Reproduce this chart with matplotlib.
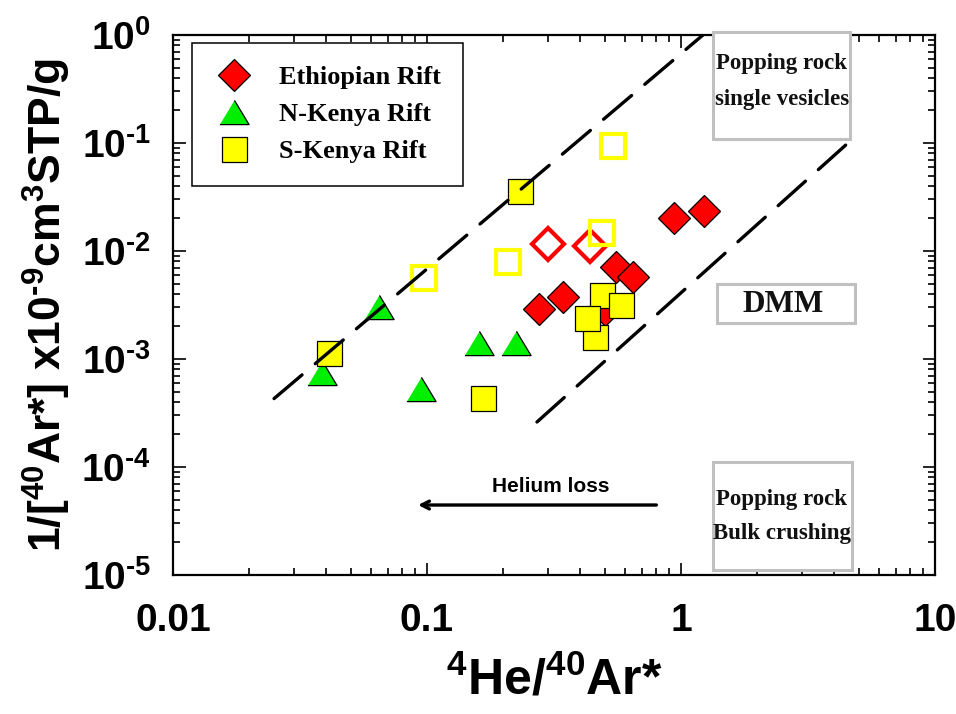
import numpy as np
import matplotlib
matplotlib.use("Agg")
import matplotlib.pyplot as plt
from matplotlib.lines import Line2D
from matplotlib.patches import Rectangle
from matplotlib.font_manager import FontProperties
from matplotlib.ticker import FixedLocator, FuncFormatter, LogLocator, NullFormatter

plt.rcParams['font.family'] = ['Liberation Sans', 'DejaVu Sans']
plt.rcParams['font.weight'] = 'bold'
plt.rcParams['mathtext.fontset'] = 'custom'
plt.rcParams['mathtext.rm'] = 'Liberation Sans:bold'
plt.rcParams['mathtext.bf'] = 'Liberation Sans:bold'
plt.rcParams['mathtext.it'] = 'Liberation Sans:bold'

# ---- data: 4He/40Ar* vs 1/[40Ar*] ----
eth_x = [0.276, 0.343, 0.502, 0.555, 0.647, 0.937, 1.23]
eth_y = [0.0029, 0.00375, 0.00284, 0.00711, 0.00574, 0.0202, 0.0235]
eth_open_x = [0.299, 0.438]
eth_open_y = [0.0116, 0.0111]

nk_x = [0.0387, 0.0647, 0.0946, 0.160, 0.224]
nk_y = [0.00074, 0.00303, 0.000527, 0.00141, 0.00141]

sk_x = [0.0411, 0.166, 0.232, 0.489, 0.581, 0.458, 0.427]
sk_y = [0.00114, 0.000435, 0.0359, 0.00391, 0.00316, 0.0016, 0.0024]
sk_open_x = [0.0973, 0.208, 0.489, 0.540]
sk_open_y = [0.00562, 0.0079, 0.0147, 0.0938]

# bounding trend lines
upper_x = [0.025, 1.22]
upper_y = [4.3e-4, 1.0]
lower_x = [0.271, 4.63]
lower_y = [2.61e-4, 0.104]

xticks = [0.01, 0.1, 1, 10]
xtick_labels = ['0.01', '0.1', '1', '10']
yticks = [1e-5, 1e-4, 1e-3, 1e-2, 1e-1, 1e0]

group_labels = ['Ethiopian Rift', 'N-Kenya Rift', 'S-Kenya Rift']

# ---- figure ----
fig = plt.figure(figsize=(9.56, 7.14), dpi=100)
ax = fig.add_axes([173 / 956, 1 - 575 / 714, 762 / 956, 540 / 714])
ax.set_xscale('log')
ax.set_yscale('log')
ax.set_xlim(0.01, 10)
ax.set_ylim(1e-5, 1)

tri = [(-1, -0.83), (1, -0.83), (0, 0.83)]

ax.plot(nk_x, nk_y, linestyle='none', marker=tri, ms=21, mfc='#00ee00',
        mec='black', mew=0.9, zorder=3)
ax.plot(eth_x, eth_y, linestyle='none', marker='D', ms=16.5, mfc='#ff0000',
        mec='black', mew=0.9, zorder=4)
ax.plot(eth_open_x, eth_open_y, linestyle='none', marker='D', ms=16,
        mfc='none', mec='#ff0000', mew=3, zorder=4)
ax.plot(sk_x, sk_y, linestyle='none', marker='s', ms=18, mfc='#ffff00',
        mec='black', mew=0.9, zorder=5)
ax.plot(sk_open_x, sk_open_y, linestyle='none', marker='s', ms=17,
        mfc='none', mec='#ffff00', mew=3, zorder=5)

for lx, ly in ((upper_x, upper_y), (lower_x, lower_y)):
    ln, = ax.plot(lx, ly, color='black', lw=2.4, zorder=6,
                  solid_capstyle='round', dash_capstyle='round')
    ln.set_dashes([11.0, 5.2])

# ---- axes styling ----
for s in ax.spines.values():
    s.set_linewidth(1.6)


def ylab(v, p):
    e = int(round(np.log10(v)))
    exp = r'\text{-}%d' % abs(e) if e < 0 else '%d' % e
    return r'10$^{%s}$' % exp


ax.xaxis.set_major_locator(FixedLocator(xticks))
ax.xaxis.set_major_formatter(FuncFormatter(
    lambda v, p: xtick_labels[xticks.index(v)] if v in xticks else ''))
ax.xaxis.set_minor_locator(LogLocator(base=10, subs=np.arange(2, 10)))
ax.xaxis.set_minor_formatter(NullFormatter())
ax.yaxis.set_major_locator(FixedLocator(yticks))
ax.yaxis.set_major_formatter(FuncFormatter(ylab))
ax.yaxis.set_minor_locator(LogLocator(base=10, subs=np.arange(2, 10)))
ax.yaxis.set_minor_formatter(NullFormatter())
ax.tick_params(which='both', direction='in', top=True, right=True, width=1.2)
ax.tick_params(which='major', length=9)
ax.tick_params(which='minor', length=5)
ax.tick_params(axis='x', which='major', labelsize=28, pad=20)
ax.tick_params(axis='y', which='major', labelsize=28, pad=16)

ax.set_xlabel(r'$^{4}$He/$^{40}$Ar*', fontsize=36, labelpad=12,
              fontweight='bold')
ax.set_ylabel(r'1/[$^{40}$Ar*] x10$^{\text{-}9}$cm$^{3}$STP/g', fontsize=32,
              labelpad=6, fontweight='bold')

# ---- legend ----
handles = [
    Line2D([], [], linestyle='none', marker='D', ms=16.5, mfc='#ff0000',
           mec='black', mew=0.9),
    Line2D([], [], linestyle='none', marker=tri, ms=21, mfc='#00ee00',
           mec='black', mew=0.9),
    Line2D([], [], linestyle='none', marker='s', ms=18, mfc='#ffff00',
           mec='black', mew=0.9),
]
leg = ax.legend(handles, group_labels, loc='upper left',
                bbox_to_anchor=(0.025, 0.985), borderaxespad=0,
                frameon=True, fancybox=False, framealpha=1,
                edgecolor='black',
                prop=FontProperties(family='Liberation Serif', weight='bold',
                                    size=19),
                borderpad=0.85, labelspacing=0.52, handlelength=1.5,
                handletextpad=0.95)
leg.get_frame().set_linewidth(1.1)
leg.set_zorder(10)

# ---- reference field boxes ----
serif = dict(family='Liberation Serif', weight='bold', color='#111111')
boxes = [
    (0.709, 0.807, 0.888 - 0.709, 1.006 - 0.807),
    (0.714, 0.467, 0.895 - 0.714, 0.539 - 0.467),
    (0.709, 0.009, 0.891 - 0.709, 0.209 - 0.009),
]
for bx, by, bw, bh in boxes:
    ax.add_patch(Rectangle((bx, by), bw, bh, transform=ax.transAxes,
                           facecolor='white', edgecolor='#c0c0c0', lw=2.2,
                           zorder=8, clip_on=False))

cx = (782 - 173) / 762
ax.text(cx, (575 - 64) / 540, 'Popping rock', transform=ax.transAxes,
        ha='center', va='center', fontsize=16.5, zorder=9, **serif)
ax.text(cx, (575 - 99) / 540, 'single vesicles', transform=ax.transAxes,
        ha='center', va='center', fontsize=16.5, zorder=9, **serif)
ax.text((783 - 173) / 762, (575 - 305) / 540, 'DMM', transform=ax.transAxes,
        ha='center', va='center', fontsize=22.5, zorder=9, **serif)
ax.text(cx, (575 - 500) / 540, 'Popping rock', transform=ax.transAxes,
        ha='center', va='center', fontsize=16.5, zorder=9, **serif)
ax.text(cx, (575 - 533) / 540, 'Bulk crushing', transform=ax.transAxes,
        ha='center', va='center', fontsize=16.5, zorder=9, **serif)

# ---- helium loss arrow ----
ax.annotate('', xy=(0.318, 0.1296), xytext=(0.638, 0.1296),
            xycoords='axes fraction', textcoords='axes fraction',
            arrowprops=dict(arrowstyle='->,head_length=0.55,head_width=0.28',
                            color='black', lw=2.4))
ax.text((551 - 173) / 762, (575 - 487) / 540, 'Helium loss',
        transform=ax.transAxes, ha='center', va='center', fontsize=15,
        fontweight='bold')

fig.savefig('out.png', dpi=100)
